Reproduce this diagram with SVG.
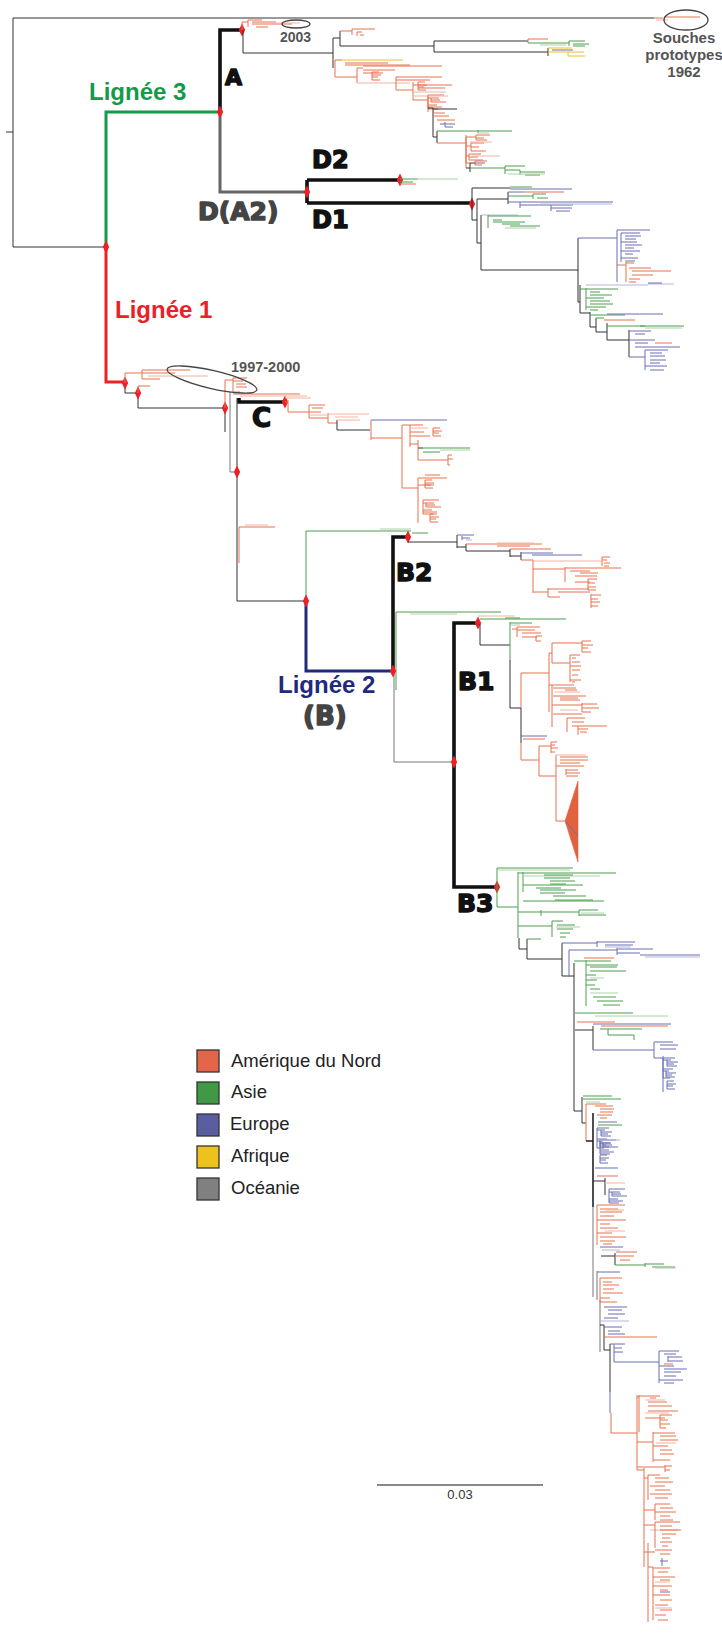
<svg xmlns="http://www.w3.org/2000/svg" width="722" height="1641" viewBox="0 0 722 1641">
<style>
path{fill:none;stroke-width:1}
.o{stroke:#e8714f;color:#e8714f}
.lo{stroke:#f3b3a0;color:#f3b3a0}
.g{stroke:#4f9e4f;color:#4f9e4f}
.lg{stroke:#aad3a6;color:#aad3a6}
.b{stroke:#6b6eb2;color:#6b6eb2}
.lb{stroke:#b3b6dc;color:#b3b6dc}
.k{stroke:#333;color:#333}
.kk{stroke:#222;stroke-width:1.6}
.gr{stroke:#777}
.y{stroke:#f0c020;color:#f0c020}
.thick{stroke:#111;stroke-width:3.6}
.l3{stroke:#149a48;stroke-width:3}
.l1{stroke:#ec2027;stroke-width:3}
.l2{stroke:#1f2a7d;stroke-width:3}
.da2{stroke:#666;stroke-width:3}
#dm{fill:#ec2027;stroke:none}
.tri{fill:#e2623f;stroke:#e2623f;stroke-width:0.6}
.heavy{font-family:"DejaVu Sans",sans-serif;font-weight:bold;fill:#111;stroke:#111;stroke-width:1.5;stroke-linejoin:round}
.lin{font-family:"Liberation Sans",Arial,sans-serif;font-weight:bold;font-size:24px}
.note{font-family:"Liberation Sans",Arial,sans-serif;font-weight:bold;fill:#555}
.leg{font-family:"Liberation Sans",Arial,sans-serif;font-size:18.5px;fill:#222}
.box{stroke:#333;stroke-width:1.3}
.ell{fill:none;stroke:#444;stroke-width:1.3}
</style>
<defs>
<path id="dm" d="M0,-6.5L3.2,0L0,6.5L-3.2,0Z"/>
<path id="f1" d="M0,0V8M0,0H7M0,3H9M0,5H6M0,8H8" stroke="currentColor"/>
<path id="f2" d="M0,0V14M0,0H16M0,3H11M3,3V7M3,5H12M3,7H18M0,10H9M0,12H14M0,14H10" stroke="currentColor"/>
<path id="f3" d="M0,0V26M0,0H10M10,-2V3M10,-2H24M10,1H18M10,3H21M0,9H5M5,6V14M5,6H18M5,10H13M5,14H20M0,19H3M3,17V23M3,17H15M3,20H12M3,23H17M0,26H9M9,24V28M9,24H21M9,28H16" stroke="currentColor"/>
<path id="f4" d="M0,0V20M0,0H12M0,2H8M4,2V8M4,4H15M4,6H11M4,8H14M0,11H10M0,13H6M3,13V19M3,15H13M3,17H9M3,19H12M0,20H7" stroke="currentColor"/>
</defs>

<g id="connectors">
<path class="k" d="M6,132H13M13,18V247M13,18H654M13,247H106"/>
<path class="l3" d="M106,247V112H220"/>
<path class="thick" d="M220,112V30H242"/>
<path class="da2" d="M220,112V192H307"/>
<path class="thick" d="M307,180V203M307,180H400M307,203H472"/>
<path class="l1" d="M106,247V382H125"/>
<path class="k" d="M125,383V393H138M138,393V408H225M225,408V432"/>
<path class="gr" d="M230,392V472H237"/>
<path class="k" d="M237,398V601H306"/>
<path class="o" d="M239,527H275M239,527V563"/>
<path class="lo" d="M245,525H268"/>
<path class="thick" d="M239,398V402H285"/>
<path class="l2" d="M306,601V671H393"/>
<path class="g" d="M306,601V531H411M412,533H428"/>
<path class="lg" d="M380,529H411"/>
<path class="gr" d="M394,671V762H454"/>
<path class="g" d="M396,612V690M396,612H501"/>
<path class="lg" d="M410,614H457"/>
<path class="thick" d="M393,671V537H408"/>
<path class="thick" d="M454,762V623H478"/>
<path class="thick" d="M454,762V887H497"/>
</g>

<g id="diamonds">
<use href="#dm" x="106" y="247"/><use href="#dm" x="220" y="112"/><use href="#dm" x="242" y="30"/>
<use href="#dm" x="307" y="192"/><use href="#dm" x="400" y="180"/><use href="#dm" x="472" y="204"/>
<use href="#dm" x="125" y="383"/><use href="#dm" x="138" y="393"/><use href="#dm" x="225" y="408"/>
<use href="#dm" x="237" y="472"/><use href="#dm" x="285" y="402"/><use href="#dm" x="306" y="601"/>
<use href="#dm" x="393" y="671"/><use href="#dm" x="408" y="537"/><use href="#dm" x="454" y="762"/>
<use href="#dm" x="478" y="623"/><use href="#dm" x="497" y="887"/>
</g>

<g id="prototypes">
<path class="o" d="M654,18H663M664,17H700"/>
<path class="lo" d="M656,20H668"/>
<ellipse class="ell" cx="686" cy="20" rx="22" ry="10"/>
<text class="note" font-size="15" text-anchor="middle" x="684" y="43">Souches</text>
<text class="note" font-size="15" text-anchor="middle" x="684" y="60">prototypes</text>
<text class="note" font-size="15" text-anchor="middle" x="684" y="77">1962</text>
</g>

<g id="clade-A">
<path class="o" d="M242,30V22H248M248,20V27M248,20H262M252,22H276M252,24H292M256,27H268"/>
<path class="lo" d="M260,23H300"/>
<ellipse class="ell" cx="296" cy="24" rx="14" ry="4"/>
<text class="note" font-size="14" x="280" y="42">2003</text>
<path class="k" d="M243,30V53H333M333,38V68M333,38H340M340,31V46H434M434,41V52M434,41H528M434,52H548M548,48V56"/>
<path class="o" d="M340,31H352M352,29V35M352,29H375M357,32V36M357,32H362M360,35H364M528,39V43M528,39H548"/>
<path class="g" d="M528,43H569M569,41V46M569,41H585M573,44H589M573,46H585"/>
<path class="lg" d="M540,45H566"/>
<path class="y" d="M548,48H572M548,52H584M568,52V56M568,56H585"/>
<path class="b" d="M552,50H573"/>
<path class="y" d="M342,60H403"/>
<path class="o" d="M335,60V77M335,60H342M345,63H388M345,65H410M335,77H357M357,68V83M357,68H363M363,66H442M363,70H395M363,73H383"/>
<use href="#f1" x="372" y="72" class="o"/>
<path class="lo" d="M357,83H396M396,83H410"/>
<path class="o" d="M396,77V90M396,77H442M396,80H430M396,90H413M413,82V100M413,85H452M418,88H445M413,100H428M428,95V112"/>
<use href="#f1" x="418" y="82" class="o"/>
<use href="#f2" x="428" y="95" class="o"/>
<path class="lo" d="M413,92H446M413,96H448"/>
<path class="k" d="M428,108H433M433,108V137M433,109H457M433,137H437M437,131V143"/>
<path class="o" d="M433,113H445M433,116H449M437,120H455"/>
<path class="b" d="M440,124H455M445,122V127M445,127H453"/>
<path class="g" d="M437,131H512M478,130V133"/>
<path class="lg" d="M478,133H489"/>
<path class="o" d="M437,143H466M466,135V168"/>
<use href="#f3" x="466" y="137" class="o"/>
<path class="lo" d="M470,142H492M472,156H500"/>
<path class="b" d="M470,163H485"/>
<path class="k" d="M466,168H470M470,163V172"/>
<path class="g" d="M470,168H505M505,166V174M505,166H525M505,170H520M520,170V175M520,172H545M525,175H540"/>
<path class="lg" d="M508,174H545"/>
</g>

<g id="clade-D2">
<path class="g" d="M400,179H418M400,182H413"/>
<path class="lg" d="M410,179H458"/>
<path class="o" d="M400,184H416"/>
</g>

<g id="clade-D1">
<path class="k" d="M472,188V220M472,188H510M472,220H477M477,199V243M477,199H508M508,192V204M477,243H481M481,215V270M481,270H578"/>
<path class="g" d="M510,187H532"/>
<path class="b" d="M510,189H572M508,192H524"/>
<path class="o" d="M524,192H564"/>
<path class="g" d="M508,196H533M533,194V199M533,194H546M537,198H548"/>
<path class="b" d="M508,202H613M520,202V208M520,205H551M551,205V211M551,205H573M551,208H572M556,211H570"/>
<path class="lb" d="M540,204H612"/>
<path class="lb" d="M481,215H518"/>
<path class="g" d="M488,215V228M488,216H531M493,220H502M493,222H525M502,224H520M510,226H540"/>
<path class="lg" d="M505,228H536"/>
<path class="k" d="M578,238V302H580M580,285V313"/>
<path class="b" d="M578,238H617M617,230V282M617,230H650M621,233V262M621,233H640M625,236H641M625,239H636M621,242H637M625,245H642M625,248H634M621,251H640M625,254H633M621,258H638M625,261H635"/>
<path class="o" d="M617,265H626M626,262V282M626,263H634M629,268H651M632,271H671M632,275H653M629,279H640M629,282H636"/>
<path class="lb" d="M586,285H648M648,284H674"/>
<path class="b" d="M648,283H662"/>
<path class="g" d="M580,289H586M586,288V310M586,289H618M590,292H600M590,295H612M586,298H604M590,301H610M590,304H613M586,307H606M590,310H598"/>
<path class="k" d="M580,313H590M590,312V327M590,327H596M596,318V332M596,332H607M607,323V340M607,340H629M629,330V357"/>
<path class="g" d="M590,315H625M596,318H604M607,326H645M640,326H684"/>
<path class="o" d="M604,320H635M655,343H672"/>
<path class="b" d="M607,314H663"/>
<path class="lg" d="M645,328H682"/>
<path class="b" d="M629,331H651M635,334H645M629,340H655M635,343H648M635,347H680M629,357H645M645,350V370M645,350H668M650,353H662M650,356H665M650,360H666M650,363H660M645,366H667M650,370H664"/>
</g>

<g id="clade-L1-base">
<path class="o" d="M125,373V383M125,373H142M142,370V379M142,370H190M142,373H175M142,379H160M138,386V393M138,386H150"/>
<path class="lo" d="M148,376H208"/>
<path class="o" d="M225,380V408M225,380H233M233,378V392M233,378H247M233,381H243M236,384H246M236,387H247M233,392H240M233,394H300"/>
<path class="lo" d="M240,396H307"/>
<ellipse class="ell" cx="212" cy="379.5" rx="46" ry="9" transform="rotate(13 212 379.5)"/>
<text class="note" font-size="14.5" x="231" y="372">1997-2000</text>
</g>

<g id="clade-C">
<path class="lo" d="M285,398H311"/>
<path class="o" d="M285,402H288M288,400V412M288,412H309M309,405V418M309,405H325M312,408H323M309,412H321M309,418H328M328,413V423M328,423H337"/>
<path class="lo" d="M309,415H327M328,414H369M335,417H358"/>
<path class="k" d="M337,420V430H370"/>
<path class="lo" d="M337,420H360"/>
<path class="b" d="M371,420H447"/>
<path class="o" d="M371,420V440M371,438H402M402,425V488M402,425H410M410,425V447M410,425H423M410,432H424M410,436H430M410,444H418M418,440V460"/>
<path class="lo" d="M410,428H428"/>
<use href="#f1" x="433" y="428" class="o"/>
<path class="k" d="M418,448H423"/>
<path class="g" d="M423,448H470M423,452H440"/>
<path class="lg" d="M440,450H470"/>
<path class="o" d="M418,460H448M448,455V465M448,455H452M448,459H453M448,465H450"/>
<path class="o" d="M402,488H418M418,478V523M418,478H447M425,475H440M418,485H434"/>
<use href="#f1" x="425" y="480" class="o"/>
<use href="#f2" x="423" y="500" class="o"/>
<use href="#f1" x="430" y="514" class="o"/>
</g>

<g id="clade-B2">
<path class="k" d="M408,542H457M457,535V548M457,547H466M466,544V551M466,551H510M510,549V557M510,556H521M521,552V560"/>
<path class="b" d="M457,535H474M462,536V540M462,538H470"/>
<path class="lb" d="M466,540H472"/>
<path class="o" d="M466,544H542M497,546H530M510,549H551"/>
<path class="lo" d="M497,543H534"/>
<path class="b" d="M521,553H553M532,555H582"/>
<path class="o" d="M521,560H533M533,560V593M602,557V566M602,557H610M602,560H607M604,563H610M604,566H609"/>
<path class="lo" d="M533,561H603"/>
<path class="o" d="M533,569H565M565,567V582M565,568H621M570,571H590M580,573H598M575,576H597M588,579V590M588,579H597M588,583H595M588,587H596M588,590H596M575,582H590"/>
<path class="o" d="M533,592H548M548,588V597M548,589H589M558,592H590M548,597H560M591,594V608M591,595H601M591,599H598M591,602H600M591,606H598"/>
</g>

<g id="clade-B1">
<path class="lo" d="M478,616H515"/>
<path class="g" d="M480,619H566M505,618H520"/>
<path class="k" d="M480,624V645H510M510,660V708M510,708H521M521,708V743"/>
<path class="g" d="M510,622V660M510,623H532"/>
<path class="lg" d="M510,625H520"/>
<path class="o" d="M512,629H517M517,627V637M517,627H540M517,630H535M522,633H541M522,637H537M536,636V641M536,636H542M536,641H541"/>
<path class="o" d="M521,673V708M521,673H549M549,653V712M549,653H552M552,643V663M552,643H582M582,641V652M582,641H591M582,645H593M582,648H588M582,652H591M552,663H570M570,655V682M570,655H580M572,658H576M572,662H580M570,666H581M572,670H580M572,675H578M570,680H581M572,682H575"/>
<path class="o" d="M549,685H552M552,685V727M552,685H574M553,688H576M565,690H577M553,696H586M560,698H578M560,700H580M552,705H582M582,703V712M582,704H597M582,708H599M582,712H591M553,714H582M567,718V732M567,718H585M572,722H584M572,726H607M578,726V735M578,729H588M580,732H587"/>
<path class="lo" d="M555,692H580M560,710H578"/>
<path class="b" d="M521,736H547"/>
<path class="o" d="M523,739H545M521,743V760M521,760H539M539,746V776M539,746H551M551,742V753M551,742H557M551,745H555M551,748H558M551,752H555"/>
<path class="o" d="M539,776H556M556,755V821M560,757H588M560,760H588M560,763H580M556,766H584M566,769V775M566,770H578M566,773H580M566,776H578M556,821H565"/>
<path class="lo" d="M556,755H586"/>
<path class="tri" d="M565,821L578,781L578,862Z"/>
<path class="b" d="M566,822L578,836" stroke-width="0.6"/>
</g>

<g id="clade-B3">
<path class="g" d="M497,868V907M497,868H573M497,907H518M518,872V938M518,873H523M523,872V892M523,873H616"/>
<path class="lg" d="M497,870H570M523,876H600"/>
<path class="g" d="M544,875H573M544,878H570M550,881H575M550,884H566M523,885H583M536,888H561M540,890H576M540,893H565M553,896H586M555,900H593M523,901H604"/>
<path class="g" d="M518,912H541M541,910V916M541,912H579M579,910V916M579,910H598M579,915H606M518,926H552M552,921V937M552,921H563M557,925H575M557,929H573M560,933H570M560,937H566"/>
<path class="lg" d="M556,927H580M581,913H604"/>
<path class="k" d="M519,938V949H527M527,939V959H562M562,943V976M562,976H574M574,963V1111"/>
<path class="g" d="M527,939H541"/>
<path class="b" d="M562,943H597M597,941V947M597,942H635M605,945H633M569,950V977M569,950H617M617,948V955M617,949H653M617,953H640M640,955H700"/>
<path class="lb" d="M605,947H631M645,957H700"/>
<path class="o" d="M584,958H614"/>
<path class="g" d="M574,961H586M586,960V1006M586,961H611M586,965H618M590,967H617M590,971H626M586,975H596M586,980H597M586,985H595M590,989H600M593,997H616M597,1001H623M603,1005H620"/>
<path class="lg" d="M590,978H604M590,993H618"/>
<path class="g" d="M575,1013H633"/>
<path class="lg" d="M595,1016H668"/>
<path class="o" d="M577,1022H615"/>
<path class="k" d="M575,1030H593M593,1026V1050"/>
<path class="b" d="M593,1024H671"/>
<path class="o" d="M601,1026H668"/>
<path class="g" d="M608,1029V1035M600,1029H642M608,1035H634M634,1035V1040"/>
<path class="b" d="M593,1050H654M654,1042V1058M654,1042H673M660,1045H678M660,1049H676M654,1058H663M663,1056V1092"/>
<use href="#f4" x="663" y="1058" class="b"/>
<use href="#f1" x="667" y="1081" class="b"/>
</g>

<g id="clade-trunk">
<path class="k" d="M574,1111H582M582,1097V1123M582,1123H586"/>
<path class="g" d="M583,1096H612M583,1099H621"/>
<path class="lg" d="M586,1102H600"/>
<path class="o" d="M586,1104V1141M586,1104H606M595,1106H613M600,1109H614M600,1112H613"/>
<path class="kk" d="M586,1141H593M593,1113V1207"/>
<path class="gr" d="M593,1207V1297M597,1271V1300M600,1300V1352"/>
<path class="o" d="M597,1115H612M600,1118H607"/>
<path class="b" d="M598,1122H617"/>
<path class="g" d="M598,1125H622"/>
<use href="#f4" x="597" y="1128" class="b"/>
<use href="#f2" x="600" y="1140" class="b"/>
<path class="lb" d="M600,1140H620"/>
<use href="#f1" x="600" y="1155" class="b"/>
<path class="b" d="M595,1168H618"/>
<path class="o" d="M597,1176H618"/>
<path class="k" d="M593,1181H605M605,1178V1195"/>
<path class="lo" d="M605,1183H625"/>
<use href="#f2" x="609" y="1189" class="b"/>
<path class="o" d="M597,1205V1245M597,1205H625M600,1209H618M600,1212H622M600,1216H614M597,1220H626M600,1224H610M600,1228H618M597,1233H612M600,1237H626M600,1241H615M603,1244H612"/>
<path class="lo" d="M605,1210H624M605,1231H625"/>
<path class="b" d="M600,1247H623"/>
<path class="lb" d="M602,1250H620"/>
<path class="k" d="M601,1256H615M615,1253V1265"/>
<path class="o" d="M616,1252H637M616,1256H634M620,1260H630"/>
<path class="g" d="M615,1265H645M645,1263V1267M645,1264H664M652,1267H675"/>
<path class="lg" d="M655,1268H676"/>
<path class="b" d="M597,1272H620"/>
<path class="o" d="M600,1278V1302M600,1278H622M603,1282H612M603,1285H619M603,1289H614M603,1293H623M600,1298H610M600,1302H617"/>
<path class="b" d="M604,1307H627M608,1310H622M608,1314H625M604,1318H618"/>
<path class="lb" d="M600,1321H629"/>
<path class="k" d="M600,1325H604M604,1325V1350"/>
<path class="b" d="M604,1327H622M608,1331H620M608,1334H625"/>
<path class="o" d="M604,1337H657"/>
<path class="k" d="M604,1350H610M610,1344V1392"/>
<path class="b" d="M610,1344H625M614,1348H622M614,1352H623M614,1344V1362M614,1362H659M659,1351V1383M659,1351H679M664,1354H676M668,1356V1362M668,1357H682M668,1361H683M659,1366H674M664,1369H687M664,1372H681M664,1376H676M659,1380H683M664,1383H674"/>
<path class="o" d="M664,1364H673"/>
<path class="b" d="M610,1392V1413"/>
<path class="o" d="M611,1413V1433H637M637,1395V1467M637,1442H653"/>
</g>

<g id="clade-NA">
<path class="o" d="M637,1397H639M639,1395V1432M639,1396H660M650,1398H656M648,1402H667M648,1406H672M648,1411H678M645,1418H665M660,1415V1428M660,1415H672M660,1420H668M660,1424H670M660,1428H666"/>
<path class="lo" d="M645,1400H665M645,1413H669"/>
<path class="o" d="M653,1432V1462M653,1433H675M660,1436H676M660,1440H678M653,1446H668M660,1450H672M660,1454H674M653,1460H670"/>
<path class="lo" d="M656,1443H676"/>
<path class="o" d="M637,1467H665M665,1465V1472M665,1466H672M665,1470H670M637,1467V1470H644M644,1468V1567"/>
<path class="o" d="M644,1478H648M648,1475V1500M648,1475H660M655,1478H669M655,1482H673M650,1486H665M655,1490H670M650,1494H672M655,1498H668"/>
<path class="o" d="M644,1510H655M655,1504V1520M655,1504H670M660,1508H673M655,1512H676M660,1516H670M660,1520H673"/>
<path class="lo" d="M650,1530H678"/>
<path class="o" d="M644,1525H655M655,1522V1548M655,1522H680M660,1526H672M660,1530H681M662,1534H676M662,1538H670M660,1542H672M662,1546H668"/>
<path class="o" d="M644,1552H655M655,1550H672M660,1554H670M648,1543V1622M648,1567H653M653,1567V1620"/>
<path class="b" d="M660,1561H668M662,1558V1566"/>
<path class="o" d="M653,1568H670M658,1572H668M653,1577H675M660,1580H670M653,1586H672M660,1590H668M653,1595H670M660,1600H672M655,1605H668M660,1610H672M655,1615H666M658,1620H668"/>
<path class="b" d="M660,1592H670"/>
<path class="lo" d="M655,1582H670M655,1608H672"/>
</g>

<g id="scale">
<path d="M377,1485H543" stroke="#111" stroke-width="2"/>
<text x="460" y="1499" text-anchor="middle" font-family="Liberation Sans, Arial, sans-serif" font-size="13" fill="#333">0.03</text>
</g>

<g id="legend">
<rect class="box" x="197" y="1050" width="22" height="22" fill="#e2664a"/>
<rect class="box" x="197" y="1082" width="22" height="22" fill="#409a45"/>
<rect class="box" x="197" y="1114" width="22" height="22" fill="#5a5ea0"/>
<rect class="box" x="197" y="1146" width="22" height="22" fill="#eec21e"/>
<rect class="box" x="197" y="1178" width="22" height="22" fill="#808080"/>
<text class="leg" x="231" y="1067">Amérique du Nord</text>
<text class="leg" x="231" y="1098">Asie</text>
<text class="leg" x="230" y="1130">Europe</text>
<text class="leg" x="231" y="1162">Afrique</text>
<text class="leg" x="231" y="1194">Océanie</text>
</g>

<g id="labels">
<text class="lin" x="89" y="100" fill="#149a48">Lignée 3</text>
<text class="lin" x="115" y="318" fill="#ec2027">Lignée 1</text>
<text class="lin" x="278" y="693" fill="#1f2a7d">Lignée 2</text>
<text class="heavy" x="303" y="725" font-size="26" style="fill:#444;stroke:#444">(B)</text>
<text class="heavy" x="198" y="220" font-size="25" style="fill:#444;stroke:#444">D(A2)</text>
<text class="heavy" x="225" y="85" font-size="22">A</text>
<text class="heavy" x="312" y="168" font-size="24">D2</text>
<text class="heavy" x="312" y="228" font-size="24">D1</text>
<text class="heavy" x="252" y="427" font-size="26">C</text>
<text class="heavy" x="396" y="581" font-size="25">B2</text>
<text class="heavy" x="458" y="690" font-size="25">B1</text>
<text class="heavy" x="457" y="912" font-size="25">B3</text>
</g>
</svg>
